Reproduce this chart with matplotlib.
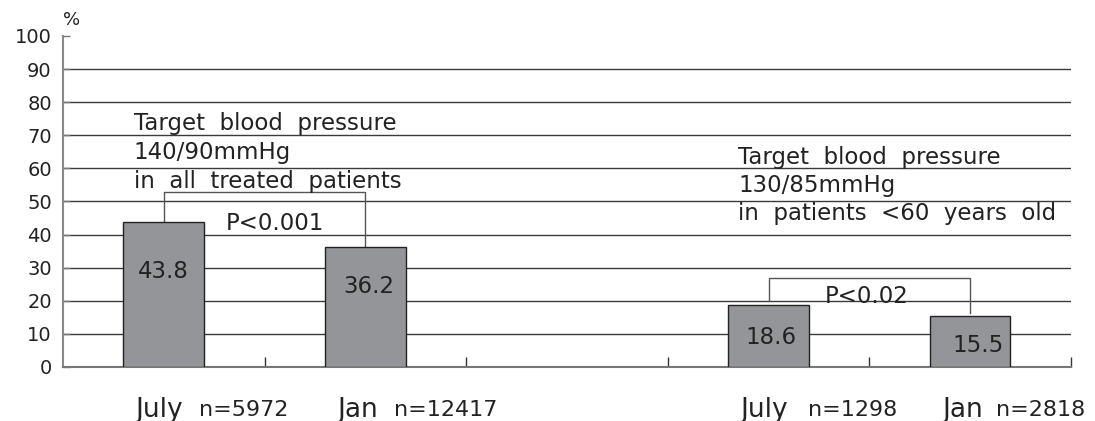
import matplotlib.pyplot as plt
from matplotlib.ticker import FixedLocator

# bar data: 5 slots, the middle one left empty
slots = [0, 1, 3, 4]
values = [43.8, 36.2, 18.6, 15.5]
value_labels = ["43.8", "36.2", "18.6", "15.5"]
months = ["July", "Jan", "July", "Jan"]
counts = ["n=5972", "n=12417", "n=1298", "n=2818"]
yticks = [0, 10, 20, 30, 40, 50, 60, 70, 80, 90, 100]

left_note = ["Target  blood  pressure", "140/90mmHg", "in  all  treated  patients"]
right_note = ["Target  blood  pressure", "130/85mmHg", "in  patients  <60  years  old"]
pvals = ["P<0.001", "P<0.02"]

bar_color = "#939598"
grid_color = "#3a3a3a"
txt = "#222222"

fig = plt.figure(figsize=(10.95, 4.21), dpi=100)
ax = fig.add_axes([0.0575, 0.1283, 0.9205, 0.7862])

ax.set_xlim(-0.5, 4.5)
ax.set_ylim(0, 100)

# horizontal grid lines
for y in yticks[1:-1]:
    ax.axhline(y, color=grid_color, lw=1.0, zorder=1)

ax.bar(slots, values, width=0.4, color=bar_color, edgecolor="#222222",
       linewidth=1.0, zorder=3)

# value labels inside bars
label_y = [28.7, 24.2, 8.8, 6.6]
label_dx = [0.0, 0.015, 0.01, 0.04]
for s, lab, ly, dx in zip(slots, value_labels, label_y, label_dx):
    ax.text(s + dx, ly, lab, ha="center", va="center", fontsize=16.5,
            color=txt, zorder=4)

# significance brackets
br = "#555555"
ax.plot([0, 0, 1, 1], [43.8, 52.9, 52.9, 36.5], color=br, lw=1.0, zorder=2)
ax.plot([3, 3, 4, 4], [19.8, 26.9, 26.9, 16.2], color=br, lw=1.0, zorder=2)
ax.text(0.31, 43.2, pvals[0], ha="left", va="center", fontsize=16.5,
        color=txt, zorder=4)
ax.text(3.28, 21.2, pvals[1], ha="left", va="center", fontsize=16.5,
        color=txt, zorder=4)

# notes
for i, line in enumerate(left_note):
    ax.text(-0.15, 73.7 - 8.9 * i, line, ha="left", va="center",
            fontsize=16.5, color=txt, zorder=4)
for i, line in enumerate(right_note):
    ax.text(2.85, 63.4 - 8.5 * i, line, ha="left", va="center",
            fontsize=16.5, color=txt, zorder=4)

# category labels below axis
trans = ax.get_xaxis_transform()
n_offset = [0.317, 0.282, 0.337, 0.267]
for s, m, n, off in zip(slots, months, counts, n_offset):
    ax.text(s - 0.14, -0.13, m, transform=trans, ha="left", va="center",
            fontsize=19, color=txt)
    ax.text(s - 0.14 + off, -0.13, n, transform=trans, ha="left",
            va="center", fontsize=16, color=txt)

# axes styling
ax.set_yticks(yticks)
ax.set_yticklabels([str(v) for v in yticks], fontsize=14, color=txt)
ax.tick_params(axis="y", direction="in", length=5, width=1, color="#777777", pad=8)
ax.set_xticks([])
ax.xaxis.set_minor_locator(FixedLocator([0.5, 1.5, 2.5, 3.5, 4.5]))
ax.tick_params(axis="x", which="minor", direction="in", length=7, width=1,
               color="#333333")

for side in ["top", "right"]:
    ax.spines[side].set_visible(False)
ax.spines["left"].set_color("#888888")
ax.spines["left"].set_linewidth(1.5)
ax.spines["bottom"].set_color("#777777")
ax.spines["bottom"].set_linewidth(1.5)

ax.text(0.0, 1.02, "%", transform=ax.transAxes, ha="left", va="bottom",
        fontsize=13, color=txt)

fig.savefig("out.png", dpi=100)
